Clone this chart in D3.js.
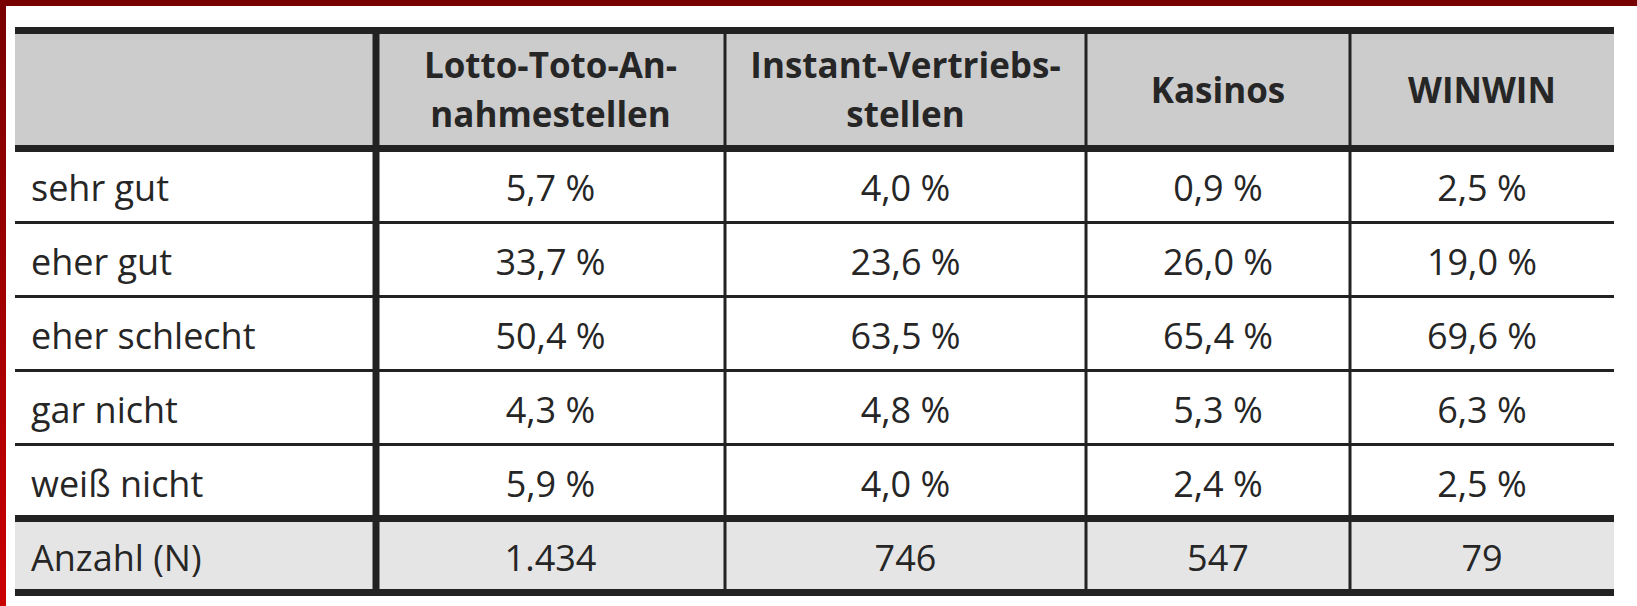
<!DOCTYPE html>
<html>
<head>
<meta charset="utf-8">
<script src="https://cdn.jsdelivr.net/npm/d3@7"></script>
<style>
  html, body { margin: 0; padding: 0; background: #fff; }
  svg { display: block; }
</style>
</head>
<body>
<div id="chart"></div>
<script>
// table content
const columns = [["Lotto-Toto-An-", "nahmestellen"], ["Instant-Vertriebs-", "stellen"], ["Kasinos"], ["WINWIN"]];
const rowLabels = ["sehr gut", "eher gut", "eher schlecht", "gar nicht", "weiß nicht"];
const lottoToto = [5.7, 33.7, 50.4, 4.3, 5.9];
const instant = [4.0, 23.6, 63.5, 4.8, 4.0];
const kasinos = [0.9, 26.0, 65.4, 5.3, 2.4];
const winwin = [2.5, 19.0, 69.6, 6.3, 2.5];
const counts = [1434, 746, 547, 79];
const countLabel = "Anzahl (N)";

const series = [lottoToto, instant, kasinos, winwin];

const W = 1637, H = 606;
const tLeft = 15, tRight = 1614;
const colEdges = [tLeft, 376, 725, 1086, 1350, tRight];
const tTop = 30.5, headBottom = 148.5, bodyBottom = 518.5, tBottom = 592.5;
const ink = "#262626";
const font = "'Open Sans', 'Noto Sans', sans-serif";

const fmtPct = v => d3.format(".1f")(v).replace(".", ",") + " %";
const fmtN = d3.formatLocale({ decimal: ",", thousands: ".", grouping: [3] }).format(",d");

const svg = d3.select("#chart").append("svg")
  .attr("width", W)
  .attr("height", H);

// red frame on top and left
const grad = svg.append("defs").append("linearGradient")
  .attr("id", "frame").attr("x1", 0).attr("y1", 0).attr("x2", 0).attr("y2", 1);
grad.append("stop").attr("offset", "0%").attr("stop-color", "#780000");
grad.append("stop").attr("offset", "100%").attr("stop-color", "#cc0000");
svg.append("rect").attr("x", 0).attr("y", 0).attr("width", W).attr("height", 6).attr("fill", "#780000");
svg.append("rect").attr("x", 0).attr("y", 0).attr("width", 6).attr("height", H).attr("fill", "url(#frame)");

const y = d3.scaleBand()
  .domain(rowLabels)
  .range([headBottom, bodyBottom]);

// backgrounds
svg.append("rect")
  .attr("x", tLeft).attr("y", tTop).attr("width", tRight - tLeft).attr("height", headBottom - tTop)
  .attr("fill", "#cccccc");
svg.append("rect")
  .attr("x", tLeft).attr("y", bodyBottom).attr("width", tRight - tLeft).attr("height", tBottom - bodyBottom)
  .attr("fill", "#e5e5e5");

const g = svg.append("g")
  .attr("font-family", font)
  .attr("fill", ink);

// header
columns.forEach((lines, i) => {
  const cx = (colEdges[i + 1] + colEdges[i + 2]) / 2;
  const lh = 49;
  const base = (tTop + headBottom) / 2 + 13 - (lines.length - 1) * lh / 2;
  lines.forEach((t, j) => {
    g.append("text")
      .attr("x", cx).attr("y", base + j * lh)
      .attr("text-anchor", "middle")
      .attr("font-size", 35).attr("font-weight", 700)
      .text(t);
  });
});

// body rows
rowLabels.forEach((r, ri) => {
  const cy = y(r) + y.bandwidth() / 2 + 15;
  g.append("text")
    .attr("x", 31).attr("y", cy)
    .attr("font-size", 36)
    .text(r);
  series.forEach((s, ci) => {
    g.append("text")
      .attr("x", (colEdges[ci + 1] + colEdges[ci + 2]) / 2).attr("y", cy)
      .attr("text-anchor", "middle")
      .attr("font-size", 36)
      .text(fmtPct(s[ri]));
  });
});

// count row
const cyN = (bodyBottom + tBottom) / 2 + 15;
g.append("text")
  .attr("x", 31).attr("y", cyN)
  .attr("font-size", 36)
  .text(countLabel);
counts.forEach((n, ci) => {
  g.append("text")
    .attr("x", (colEdges[ci + 1] + colEdges[ci + 2]) / 2).attr("y", cyN)
    .attr("text-anchor", "middle")
    .attr("font-size", 36)
    .text(fmtN(n));
});

// grid lines
const grid = svg.append("g").attr("stroke", "#222");
rowLabels.slice(1).forEach(r => {
  grid.append("line")
    .attr("x1", tLeft).attr("x2", tRight).attr("y1", y(r)).attr("y2", y(r))
    .attr("stroke-width", 3);
});
colEdges.slice(2, 5).forEach(x => {
  grid.append("line")
    .attr("x1", x).attr("x2", x).attr("y1", tTop).attr("y2", tBottom)
    .attr("stroke-width", 3);
});
grid.append("line")
  .attr("x1", colEdges[1]).attr("x2", colEdges[1]).attr("y1", tTop).attr("y2", tBottom)
  .attr("stroke-width", 7);
[tTop, headBottom, bodyBottom, tBottom].forEach(yy => {
  grid.append("line")
    .attr("x1", tLeft).attr("x2", tRight).attr("y1", yy).attr("y2", yy)
    .attr("stroke-width", 7);
});
</script>
</body>
</html>
